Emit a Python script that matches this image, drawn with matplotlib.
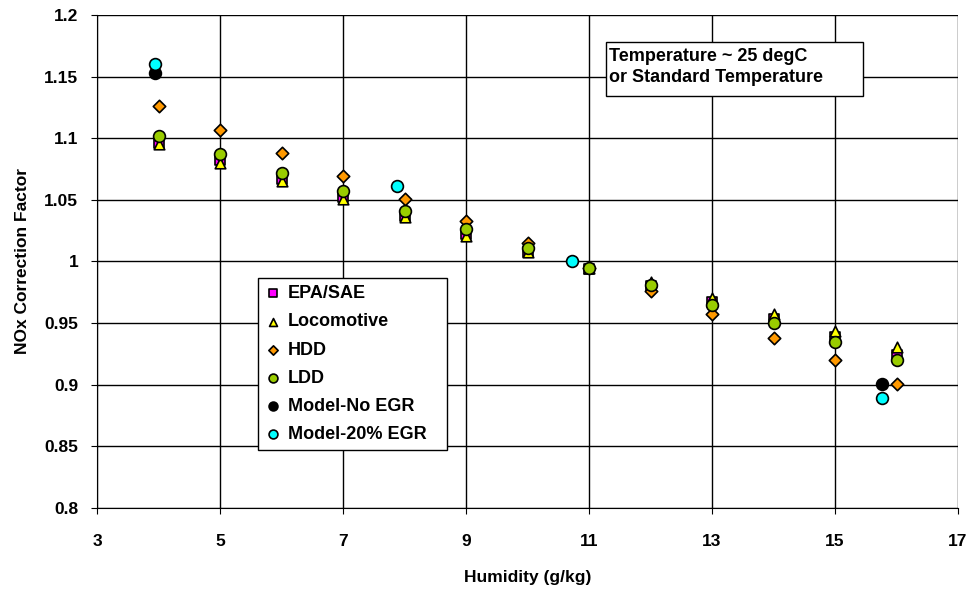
import matplotlib
matplotlib.use("Agg")
import matplotlib.pyplot as plt
from matplotlib.patches import Rectangle

plt.rcParams['font.family'] = ['Liberation Sans', 'DejaVu Sans']
plt.rcParams['font.weight'] = 'bold'

# Humidity points for the correlations
humidity = [4, 5, 6, 7, 8, 9, 10, 11, 12, 13, 14, 15, 16]
epa_sae = [1.096, 1.082, 1.067, 1.052, 1.037, 1.022, 1.008, 0.994, 0.980, 0.967, 0.953, 0.939, 0.924]
locomotive = [1.095, 1.080, 1.065, 1.051, 1.036, 1.021, 1.008, 0.995, 0.983, 0.970, 0.957, 0.944, 0.931]
hdd = [1.126, 1.107, 1.088, 1.069, 1.051, 1.033, 1.015, 0.995, 0.976, 0.957, 0.938, 0.920, 0.901]
ldd = [1.102, 1.087, 1.072, 1.057, 1.041, 1.026, 1.011, 0.995, 0.981, 0.965, 0.950, 0.935, 0.920]

# Model runs
model_no_egr_x = [3.95, 15.77]
model_no_egr_y = [1.153, 0.901]
model_egr_x = [3.95, 7.88, 10.72, 15.77]
model_egr_y = [1.160, 1.061, 1.000, 0.889]

fig = plt.figure(figsize=(9.69, 5.90), dpi=100)
ax = fig.add_axes([0.1001, 0.139, 0.8886, 0.8356])

lw = 1.2
ax.scatter(humidity, epa_sae, s=50, marker='s', color='#FF00FF', edgecolors='black', linewidths=lw, zorder=3, label='EPA/SAE')
ax.scatter(humidity, locomotive, s=58, marker='^', color='#FFFF00', edgecolors='black', linewidths=lw, zorder=4, label='Locomotive')
ax.scatter(humidity, hdd, s=40, marker='D', color='#FF9900', edgecolors='black', linewidths=lw, zorder=5, label='HDD')
ax.scatter(humidity, ldd, s=72, marker='o', color='#99CC00', edgecolors='black', linewidths=lw, zorder=6, label='LDD')
ax.scatter(model_no_egr_x, model_no_egr_y, s=72, marker='o', color='black', edgecolors='black', linewidths=lw, zorder=7, label='Model-No EGR')
ax.scatter(model_egr_x, model_egr_y, s=72, marker='o', color='#00FFFF', edgecolors='black', linewidths=lw, zorder=8, label='Model-20% EGR')

ax.set_xlim(3, 17)
ax.set_ylim(0.8, 1.2)
ax.set_xticks(range(3, 18, 2))
ax.set_yticks([0.8, 0.85, 0.9, 0.95, 1.0, 1.05, 1.1, 1.15, 1.2])
ax.set_yticklabels(['0.8', '0.85', '0.9', '0.95', '1', '1.05', '1.1', '1.15', '1.2'])
ax.grid(True, color='black', linewidth=1.0)
ax.set_axisbelow(True)
for side in ['top', 'right']:
    ax.spines[side].set_visible(False)
ax.tick_params(axis='both', direction='out', length=4.5, labelsize=12.5)
ax.tick_params(axis='x', pad=14)
ax.tick_params(axis='y', pad=9)
for lbl in ax.get_xticklabels() + ax.get_yticklabels():
    lbl.set_fontweight('bold')

ax.set_xlabel('Humidity (g/kg)', fontsize=12.5, fontweight='bold', labelpad=15)
ax.set_ylabel('NOx Correction Factor', fontsize=12.5, fontweight='bold', labelpad=10)

leg = ax.legend(loc='upper left', bbox_to_anchor=(0.187, 0.3665, 0.2195, 0.1), mode='expand',
                borderaxespad=0, frameon=True, fancybox=False,
                edgecolor='black', framealpha=1, markerscale=0.75,
                handletextpad=0.35, borderpad=0.4, labelspacing=0.62, handlelength=0.9,
                prop={'weight': 'bold', 'size': 13})
leg.get_frame().set_linewidth(1.0)
leg.set_zorder(10)

# annotation box
ax.add_patch(Rectangle((0.5908, 0.8347), 0.2985, 0.1111, transform=ax.transAxes,
                       facecolor='white', edgecolor='black', linewidth=1.0, zorder=9))
ax.text(0.5947, 0.933, 'Temperature ~ 25 degC\nor Standard Temperature', transform=ax.transAxes,
        fontsize=13, fontweight='bold', va='top', ha='left', linespacing=1.3, zorder=10)

fig.savefig('out.png', dpi=100)
